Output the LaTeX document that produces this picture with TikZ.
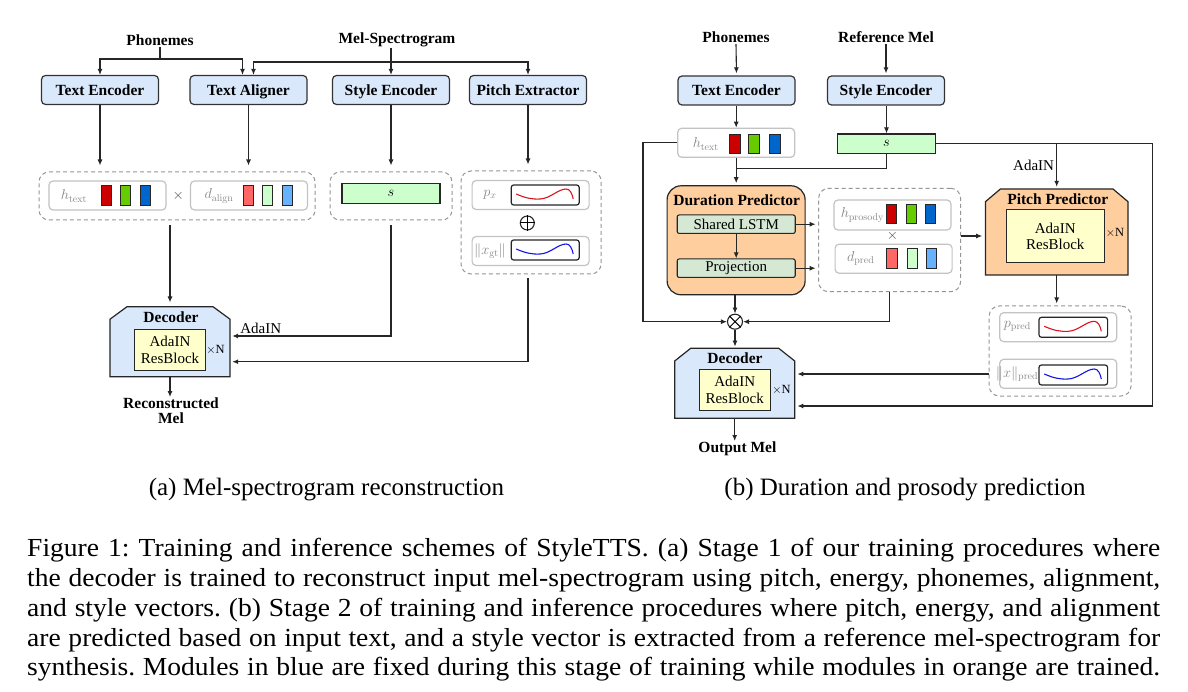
\documentclass[tikz,border=0pt]{standalone}
\usepackage[no-math]{fontspec}
\setmainfont{Liberation Serif}
\newfontfamily\capfont[FakeStretch=1.06]{Liberation Serif}
\usetikzlibrary{arrows.meta,calc}
\definecolor{blueM}{RGB}{218,232,252}
\definecolor{orangeM}{RGB}{255,206,159}
\definecolor{yelM}{RGB}{255,255,204}
\definecolor{greenS}{RGB}{204,255,204}
\definecolor{lstmM}{RGB}{213,232,212}
\definecolor{redS}{RGB}{204,0,0}
\definecolor{grnS}{RGB}{102,204,0}
\definecolor{bluS}{RGB}{0,102,204}
\definecolor{lredS}{RGB}{255,102,102}
\definecolor{lgrnS}{RGB}{204,255,204}
\definecolor{lbluS}{RGB}{102,178,255}
\definecolor{redC}{RGB}{220,20,30}
\definecolor{blueC}{RGB}{20,20,230}
\definecolor{dgray}{RGB}{150,150,150}
\definecolor{lgray}{RGB}{195,195,195}
\definecolor{labgray}{RGB}{135,135,135}
\newcommand{\chamf}[7]{\draw[draw=black!85, line width=1.2pt, fill=#7] (#1,#4) -- (#1,#2+#6) -- (#1+#5,#2) -- (#3-#5,#2) -- (#3,#2+#6) -- (#3,#4) -- cycle;}
\newcommand{\wavy}[3]{\draw[#3, line width=1.1pt] (#1-29,#2-1) .. controls (#1-20,#2+3) and (#1-13,#2+4.5) .. (#1-5,#2+4) .. controls (#1+5,#2+3.5) and (#1+13,#2-6) .. (#1+21,#2-6) .. controls (#1+25,#2-6) and (#1+27,#2-1) .. (#1+28,#2+4);}
\begin{document}
\begin{tikzpicture}[x=1pt,y=-1pt,
  arr/.style={-{Latex[length=6pt,width=5pt]}, line width=1.1pt, draw=black!85},
  ln/.style={line width=1.1pt, draw=black!85},
  mod/.style={draw=black!80, line width=1.2pt, rounded corners=4pt, fill=blueM, minimum width=117pt, minimum height=29pt, inner sep=0pt, text height=10.5pt, text depth=0pt, font=\bfseries\fontsize{15.5}{17}\selectfont},
  lab/.style={font=\bfseries\fontsize{15.5}{15}\selectfont, inner sep=1pt},
  dbox/.style={draw=dgray, dash pattern=on 4pt off 3pt, line width=1pt, rounded corners=10pt, inner sep=0pt},
  gbox/.style={draw=lgray, line width=1.2pt, rounded corners=4pt, minimum width=117pt, minimum height=29pt, inner sep=0pt},
  sq/.style={draw=black!85, line width=1pt, minimum width=10pt, minimum height=20pt, inner sep=0pt},
  mlab/.style={text=labgray, font=\fontsize{14.5}{15}\selectfont, inner sep=0pt},
  cbox/.style={draw=black!85, line width=1.2pt, rounded corners=2.5pt, minimum width=68pt, minimum height=20pt, inner sep=0pt},
  yel/.style={draw=black!85, line width=1.1pt, fill=yelM, minimum width=71pt, minimum height=41pt, inner sep=0pt, align=center, font=\fontsize{15}{16.5}\selectfont},
  reg/.style={font=\fontsize{15}{16}\selectfont, inner sep=1pt},
  xn/.style={font=\fontsize{12.5}{13}\selectfont, inner sep=0pt},
  opc/.style={circle, draw=black!85, line width=1.1pt, minimum size=14pt, inner sep=0pt},
  capl/.style={anchor=base west, inner sep=0pt, font=\capfont\fontsize{26}{30}\selectfont\frenchspacing}
]
\useasboundingbox (0,0) rectangle (1188,692);
\fill[white] (0,0) rectangle (1188,692);

% ================= (a) =================
\node[lab] (phonA) at (160,40) {Phonemes};
\node[lab] (melA) at (397,40) {Mel-Spectrogram};
\node[mod] (teA) at (100,90) {Text Encoder};
\node[mod] (taA) at (248.5,90) {Text Aligner};
\node[mod] (seA) at (391,90) {Style Encoder};
\node[mod] (peA) at (528,90) {Pitch Extractor};
\coordinate (pjA) at (160,59);
\coordinate (mjA) at (391,62);
\draw[ln] (phonA.south) -- (pjA);
\draw[arr] (pjA) -| (teA.north);
\draw[arr] (pjA) -| ([xshift=-6pt]taA.north);
\draw[ln] (melA.south -| mjA) -- (mjA);
\draw[arr] (mjA) -| ([xshift=5pt]taA.north);
\draw[arr] (mjA) -- (seA.north);
\draw[arr] (mjA) -| (peA.north);

% dashed row
\node[dbox, minimum width=276pt, minimum height=48pt] (dA1) at (177,196) {};
\node[dbox, minimum width=122pt, minimum height=48pt] (dA2) at (391,196) {};
\node[dbox, minimum width=140pt, minimum height=103pt] (dA3) at (531,222.5) {};
\draw[arr, shorten >=6pt] (teA.south) -- (teA.south |- dA1.north);
\draw[arr, shorten >=6pt] (taA.south) -- (taA.south |- dA1.north);
\draw[arr, shorten >=6pt] (seA.south) -- (seA.south |- dA2.north);
\draw[arr, shorten >=6pt] (peA.south) -- (peA.south |- dA3.north);

\node[gbox] (hA) at (107.5,195.5) {};
\node[mlab] (hAl) at (74,196) {$h_{\mathrm{text}}$};
\node[sq, fill=redS] (hA1) at (106.7,195.7) {};
\node[sq, fill=grnS] (hA2) at (125.8,195.7) {};
\node[sq, fill=bluS] (hA3) at (145.6,195.7) {};
\node[text=black!70, font=\fontsize{15}{15}\selectfont, inner sep=0pt] (xA) at (178.3,196) {$\times$};
\node[gbox] (dAl) at (249,195.5) {};
\node[mlab] (dAll) at (219,196) {$d_{\mathrm{align}}$};
\node[sq, fill=lredS] (dA1s) at (248.6,195.7) {};
\node[sq, fill=lgrnS] (dA2s) at (267.7,195.7) {};
\node[sq, fill=lbluS] (dA3s) at (287.1,195.7) {};

\node[draw=black!85, line width=1.2pt, fill=greenS, minimum width=98pt, minimum height=20pt, inner sep=0pt, font=\fontsize{15}{15}\selectfont] (sA) at (391,193.3) {$s$};

\node[gbox] (pxA) at (530.6,195) {};
\node[cbox] (pxc) at (545.2,195) {};
\wavy{545.2}{195}{redC}
\node[mlab] (pxl) at (490,195) {$p_x$};
\node[opc] (opA) at (527.3,223) {};
\draw[line width=1pt] (opA.north) -- (opA.south) (opA.west) -- (opA.east);
\node[gbox] (xgA) at (530.6,251) {};
\node[cbox] (xgc) at (545.2,250) {};
\wavy{545.2}{250}{blueC}
\node[mlab] (xgl) at (490,251) {$\|x_{\mathrm{gt}}\|$};

% decoder (a)
\chamf{110}{306.7}{230}{376.7}{17}{12.5}{blueM}
\node[inner sep=0pt, minimum width=120pt, minimum height=70pt] (decA) at (170,341.7) {};
\node[lab] (decAl) at (171,316.7) {Decoder};
\node[yel] (decAy) at (170,350) {AdaIN\\ResBlock};
\node[xn] (decAn) at (215.5,350) {$\times$N};
\coordinate (ysA) at (0,336);
\coordinate (ypA) at (0,361.7);
\draw[arr, shorten <=5pt, shorten >=4pt] (dA1.south -| decA.north) -- (decA.north);
\draw[arr, shorten <=5pt, shorten >=2pt] (dA2.south) |- (decA.east |- ysA);
\node[reg] (adaA) at (260.8,328.3) {AdaIN};
\draw[arr, shorten <=4pt, shorten >=2pt] (dA3.south -| peA.south) |- (decA.east |- ypA);
\node[lab, anchor=north, align=center] (recA) at (171,397) {Reconstructed\\Mel};
\draw[arr] (decA.south) -- (decA.south |- recA.north);

% ================= (b) =================
\node[lab] (phonB) at (736,37.5) {Phonemes};
\node[lab] (refB) at (886,37.5) {Reference Mel};
\node[mod] (teB) at (736.5,90.5) {Text Encoder};
\node[mod] (seB) at (886,90.5) {Style Encoder};
\draw[arr, shorten >=2pt] (phonB.south) -- (teB.north);
\draw[arr, shorten >=2pt] (refB.south) -- (seB.north);

\node[gbox] (htB) at (736.2,142.8) {};
\node[mlab] (htBl) at (705.8,144) {$h_{\mathrm{text}}$};
\node[sq, fill=redS, minimum width=11pt, minimum height=19pt] (htB1) at (735.4,143.7) {};
\node[sq, fill=grnS, minimum width=11pt, minimum height=19pt] (htB2) at (754.3,143.7) {};
\node[sq, fill=bluS, minimum width=11pt, minimum height=19pt] (htB3) at (774.6,143.7) {};
\node[draw=black!85, line width=1.2pt, fill=greenS, minimum width=98.5pt, minimum height=19.3pt, inner sep=0pt, font=\fontsize{15}{15}\selectfont] (sB) at (886.5,143.7) {$s$};
\draw[arr] (teB.south -| htB.north) -- (htB.north);
\draw[arr] (seB.south -| sB.north) -- (sB.north);

% duration predictor
\node[draw=black!85, line width=1.2pt, fill=orangeM, rounded corners=14pt, minimum width=138pt, minimum height=109pt, inner sep=0pt] (dpB) at (736.1,240.3) {};
\node[lab] (dpBl) at (736.7,200) {Duration Predictor};
\node[draw=black!85, line width=1.1pt, fill=lstmM, rounded corners=2pt, minimum width=118pt, minimum height=18.5pt, inner sep=0pt, font=\fontsize{15}{15}\selectfont] (lstmB) at (736.2,224.2) {Shared LSTM};
\node[draw=black!85, line width=1.1pt, fill=lstmM, rounded corners=2pt, minimum width=118pt, minimum height=18.5pt, inner sep=0pt, font=\fontsize{15}{15}\selectfont] (projB) at (736.2,268.2) {Projection};
\draw[arr] (lstmB.south) -- (projB.north);

\coordinate (jB) at (736.2,168.3);
\draw[arr, shorten >=2pt] (htB.south) -- (dpB.north -| htB.south);
\draw[ln] (sB.south) |- (jB);

% middle dashed box
\node[dbox, minimum width=142pt, minimum height=103.4pt] (midB) at (889.6,240) {};
\node[gbox, minimum height=30pt] (hpB) at (892.5,215) {};
\node[mlab] (hpBl) at (862.4,215) {$h_{\mathrm{prosody}}$};
\node[sq, fill=redS, minimum height=19pt] (hpB1) at (891.2,214.5) {};
\node[sq, fill=grnS, minimum height=19pt] (hpB2) at (911.3,214.5) {};
\node[sq, fill=bluS, minimum height=19pt] (hpB3) at (930.6,214.5) {};
\node[text=black!70, font=\fontsize{15}{15}\selectfont, inner sep=0pt] (xmB) at (892.4,236) {$\times$};
\node[gbox] (dprB) at (893.6,258.7) {};
\node[mlab] (dprBl) at (860.7,258.3) {$d_{\mathrm{pred}}$};
\node[sq, fill=lredS, minimum width=10.5pt, minimum height=19.5pt] (dprB1) at (892.2,258.5) {};
\node[sq, fill=lgrnS, minimum width=10.5pt, minimum height=19.5pt] (dprB2) at (912.5,258.5) {};
\node[sq, fill=lbluS, minimum width=10.5pt, minimum height=19.5pt] (dprB3) at (931.5,258.5) {};
\draw[arr, shorten >=2.5pt] (lstmB.east) -- (lstmB.east -| midB.west);
\draw[arr, shorten >=2.5pt] (projB.east) -- (projB.east -| midB.west);

% pitch predictor
\chamf{985.4}{189}{1128}{275}{15}{12.7}{orangeM}
\node[inner sep=0pt, minimum width=142.6pt, minimum height=86pt] (ppB) at (1056.7,232) {};
\node[lab] (ppBl) at (1057.7,199) {Pitch Predictor};
\node[yel, minimum width=98.5pt, minimum height=52.7pt] (ppBy) at (1055.3,236.3) {AdaIN\\ResBlock};
\node[xn] (ppBn) at (1115,233.3) {$\times$N};
\draw[arr, shorten >=3pt] (midB.east |- xmB) -- (ppB.west |- xmB);

% s branches
\coordinate (rxB) at (1152.4,406);
\draw[arr, shorten >=2pt] (sB.east -| ppB.north) -- (ppB.north);
\node[reg] (adaB) at (1033.6,165.7) {AdaIN};

% right dashed box
\node[dbox, minimum width=141.8pt, minimum height=90pt] (rdB) at (1060.1,351) {};
\draw[arr, shorten >=2pt] (ppB.south) -- (ppB.south |- rdB.north);
\node[gbox] (ppbx) at (1058.2,327.2) {};
\node[cbox, minimum width=68.6pt] (ppc) at (1073.3,327.3) {};
\wavy{1073.3}{327.3}{redC}
\node[mlab] (ppl) at (1017.4,326.7) {$p_{\mathrm{pred}}$};
\node[gbox] (xpbx) at (1058.2,373.8) {};
\node[cbox, minimum width=68.6pt] (xpc) at (1073.3,375) {};
\wavy{1073.3}{375}{blueC}
\node[mlab] (xpl) at (1017,374) {$\|x\|_{\mathrm{pred}}$};

% otimes
\node[opc, minimum size=15pt] (otB) at (735,321.7) {};
\draw[line width=1pt] (otB.north west) -- (otB.south east) (otB.north east) -- (otB.south west);
\coordinate (lxB) at (643,321.7);
\draw[arr] (htB.west) -| (lxB) -- (otB.west);
\draw[arr] (midB.south) |- (otB.east);
\draw[arr] (dpB.south -| otB.north) -- (otB.north);

% decoder (b)
\chamf{674.7}{348.3}{794.7}{418.3}{16}{12.7}{blueM}
\node[inner sep=0pt, minimum width=120pt, minimum height=70pt] (decB) at (734.7,383.3) {};
\node[lab] (decBl) at (735,358.3) {Decoder};
\node[yel] (decBy) at (734.7,390) {AdaIN\\ResBlock};
\node[xn] (decBn) at (781.5,390) {$\times$N};
\draw[arr, shorten >=1.5pt] (otB.south) -- (otB.south |- decB.north);
\draw[arr, shorten >=2.5pt] (rdB.west |- xpl) -- (decB.east |- xpl);
\draw[arr, shorten >=2.5pt] (sB.east) -| (rxB) -- (decB.east |- rxB);
\node[lab, anchor=north] (outB) at (737.4,441) {Output Mel};
\draw[arr] (decB.south) -- (decB.south |- outB.north);

% ================= captions =================
\node[font=\fontsize{25}{30}\selectfont, inner sep=0pt] (capa) at (326.5,490) {(a) Mel-spectrogram reconstruction};
\node[font=\fontsize{25}{30}\selectfont, inner sep=0pt] (capb) at (905,490) {(b) Duration and prosody prediction};
\node[capl] (cap1) at (27,556.7) {\hbox to 1133pt{Figure 1: Training and inference schemes of StyleTTS. (a) Stage 1 of our training procedures where}};
\node[capl] (cap2) at (27,586.5) {\hbox to 1133pt{the decoder is trained to reconstruct input mel-spectrogram using pitch, energy, phonemes, alignment,}};
\node[capl] (cap3) at (27,616.3) {\hbox to 1133pt{and style vectors. (b) Stage 2 of training and inference procedures where pitch, energy, and alignment}};
\node[capl] (cap4) at (27,646.1) {\hbox to 1133pt{are predicted based on input text, and a style vector is extracted from a reference mel-spectrogram for}};
\node[capl] (cap5) at (27,675.9) {\hbox to 1133pt{synthesis. Modules in blue are fixed during this stage of training while modules in orange are trained.}};
\end{tikzpicture}
\end{document}
